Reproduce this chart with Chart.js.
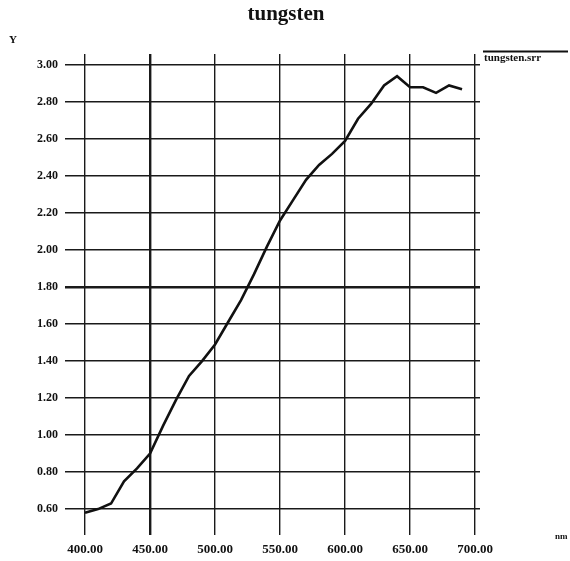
<!DOCTYPE html>
<html>
<head>
<meta charset="utf-8">
<script src="https://cdn.jsdelivr.net/npm/chart.js@4"></script>
<style>
  html, body { margin: 0; padding: 0; background: #fff; }
  #wrap { width: 570px; height: 561px; }
</style>
</head>
<body>
<div id="wrap"><canvas id="myChart" width="570" height="561"></canvas></div>
<script>
var wavelengths = [400, 410, 420, 430, 440, 450, 460, 470, 480, 490,
                   500, 510, 520, 530, 540, 550, 560, 570, 580, 590,
                   600, 610, 620, 630, 640, 650, 660, 670, 680, 690];
var values = [0.58, 0.60, 0.63, 0.75, 0.82, 0.90, 1.05, 1.19, 1.32, 1.40,
              1.49, 1.61, 1.73, 1.87, 2.02, 2.16, 2.27, 2.38, 2.46, 2.52,
              2.59, 2.71, 2.79, 2.89, 2.94, 2.88, 2.88, 2.85, 2.89, 2.87];
var xTicks = [400, 450, 500, 550, 600, 650, 700];
var yTicks = [0.60, 0.80, 1.00, 1.20, 1.40, 1.60, 1.80, 2.00, 2.20, 2.40, 2.60, 2.80, 3.00];
var chartTitle = "tungsten";

var serif = "'Liberation Serif', 'DejaVu Serif', serif";

// title, axis names and the little legend in the top right corner
var extras = {
  id: "extras",
  afterDraw: function (chart) {
    var c = chart.ctx;
    c.save();
    c.fillStyle = "#111";
    c.textBaseline = "middle";
    c.textAlign = "center";
    c.font = "bold 21px " + serif;
    c.fillText(chartTitle, 286, 15);

    c.textAlign = "left";
    c.font = "bold 11px " + serif;
    c.fillText("Y", 9, 40);
    c.font = "bold 9px " + serif;
    c.fillText("nm", 555, 537);

    c.strokeStyle = "#111";
    c.lineWidth = 2;
    c.beginPath();
    c.moveTo(483, 51.5);
    c.lineTo(568, 51.5);
    c.stroke();
    c.font = "bold 11px " + serif;
    c.textBaseline = "top";
    c.fillText(chart.data.datasets[0].label, 484, 53);
    c.restore();
  },
};

var ctx = document.getElementById("myChart").getContext("2d");
var myChart = new Chart(ctx, {
  type: "line",
  data: {
    datasets: [
      {
        label: "tungsten.srr",
        data: wavelengths.map(function (w, i) { return { x: w, y: values[i] }; }),
        borderColor: "#111",
        borderWidth: 2.6,
        pointRadius: 0,
        tension: 0,
        fill: false,
      },
    ],
  },
  options: {
    responsive: false,
    animation: false,
    layout: { padding: { left: 0, right: 90, top: 54, bottom: 0 } },
    plugins: {
      legend: { display: false },
      tooltip: { enabled: false },
      title: { display: false },
    },
    scales: {
      x: {
        type: "linear",
        min: 384.6,
        max: 703.8,
        afterBuildTicks: function (scale) {
          scale.ticks = xTicks.map(function (v) { return { value: v }; });
        },
        afterFit: function (scale) { scale.height = 26; },
        border: { display: false },
        grid: {
          color: "#1a1a1a",
          drawTicks: false,
          lineWidth: function (c) { return c.tick && c.tick.value === 450 ? 2.4 : 1.4; },
        },
        ticks: {
          color: "#111",
          padding: 7,
          maxRotation: 0,
          font: { family: serif, size: 13, weight: "bold" },
          callback: function (v) { return Number(v).toFixed(2); },
        },
      },
      y: {
        min: 0.46,
        max: 3.06,
        afterBuildTicks: function (scale) {
          scale.ticks = yTicks.map(function (v) { return { value: v }; });
        },
        afterFit: function (scale) { scale.width = 65; },
        border: { display: false },
        grid: {
          color: "#1a1a1a",
          drawTicks: false,
          lineWidth: function (c) { return c.tick && Math.abs(c.tick.value - 1.8) < 1e-6 ? 2.4 : 1.4; },
        },
        ticks: {
          color: "#111",
          padding: 7,
          font: { family: serif, size: 12, weight: "bold" },
          callback: function (v) { return Number(v).toFixed(2); },
        },
      },
    },
  },
  plugins: [extras],
});
</script>
</body>
</html>
